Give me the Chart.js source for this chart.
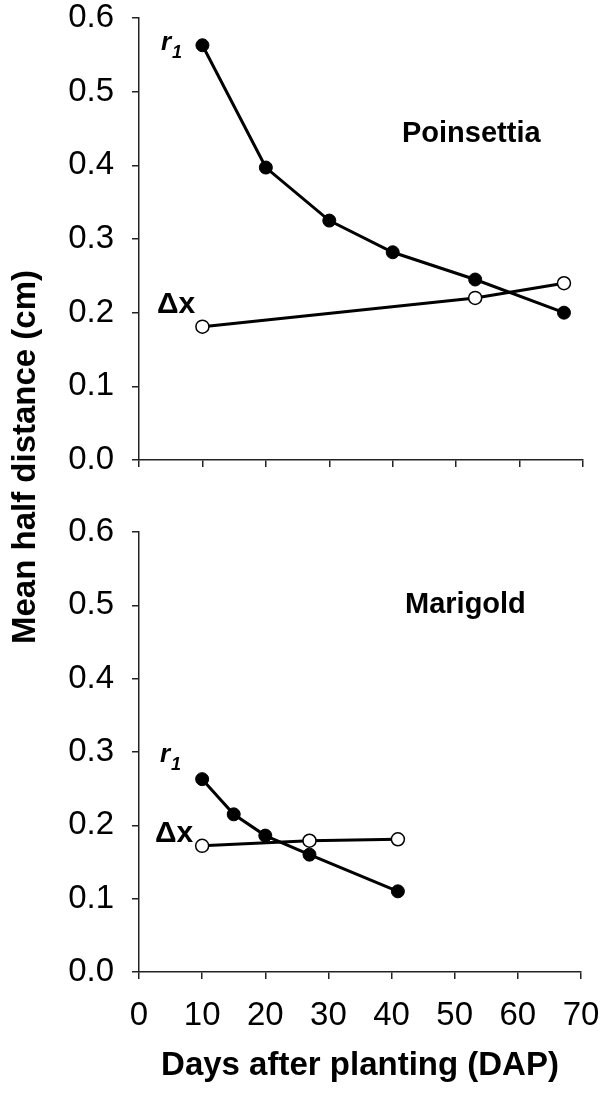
<!DOCTYPE html>
<html>
<head>
<meta charset="UTF-8">
<title>Mean half distance</title>
<style>
  body { margin: 0; background: #fff; }
  .page { position: relative; width: 605px; height: 1097px; overflow: hidden; }
  #chartTop { position: absolute; left: 0; top: 0; }
  #chartBot { position: absolute; left: 0; top: 500px; }
  .ytitle {
    position: absolute; left: -175px; top: 437px; width: 400px; height: 40px;
    line-height: 40px; text-align: center; transform: rotate(-90deg);
    font: bold 33px "Liberation Sans", Arial, sans-serif; color: #000;
  }
</style>
</head>
<body>
<div class="page">
  <canvas id="chartTop" width="605" height="500"></canvas>
  <canvas id="chartBot" width="605" height="597"></canvas>
  <div class="ytitle">Mean half distance (cm)</div>
</div>
<script src="https://cdn.jsdelivr.net/npm/chart.js"></script>
<script>
// ---- data: Poinsettia (top) ----
const poinDaysR1 = [10, 20, 30, 40, 53, 67];
const poinR1     = [0.563, 0.397, 0.325, 0.282, 0.245, 0.200];
const poinDaysDx = [10, 53, 67];
const poinDx     = [0.181, 0.220, 0.240];

// ---- data: Marigold (bottom) ----
const mariDaysR1 = [10, 15, 20, 27, 41];
const mariR1     = [0.263, 0.215, 0.186, 0.160, 0.110];
const mariDaysDx = [10, 27, 41];
const mariDx     = [0.172, 0.179, 0.181];

// axis ranges / ticks
const xMin = 0, xMax = 70, xStep = 10;
const yMin = 0, yMax = 0.6, yStep = 0.1;

const FONT = '"Liberation Sans", Arial, sans-serif';
const AXIS = '#222';

function pts(xs, ys) {
  return xs.map((x, i) => ({ x: x, y: ys[i] }));
}

function filledSet(xs, ys) {
  return {
    data: pts(xs, ys), showLine: true, borderColor: '#000', borderWidth: 3,
    pointRadius: 6.5, pointBackgroundColor: '#000', pointBorderColor: '#000',
    pointBorderWidth: 1, clip: false
  };
}
function openSet(xs, ys) {
  return {
    data: pts(xs, ys), showLine: true, borderColor: '#000', borderWidth: 3,
    pointRadius: 6.5, pointBackgroundColor: '#fff', pointBorderColor: '#000',
    pointBorderWidth: 1.5, clip: false
  };
}

// draws the text labels inside the panel
const labelPlugin = {
  id: 'panelLabels',
  afterDraw(chart, args, opts) {
    const ctx = chart.ctx;
    ctx.save();
    ctx.fillStyle = '#000';
    ctx.textBaseline = 'alphabetic';
    ctx.textAlign = 'left';
    (opts.items || []).forEach(it => {
      ctx.font = it.font;
      ctx.fillText(it.text, it.x, it.y);
    });
    ctx.restore();
  }
};

function makeChart(id, datasets, o) {
  return new Chart(document.getElementById(id), {
    type: 'scatter',
    data: { datasets: datasets },
    plugins: [labelPlugin],
    options: {
      responsive: false,
      animation: false,
      devicePixelRatio: 1,
      layout: { padding: { top: o.padTop, right: o.padRight, left: 0, bottom: 0 } },
      plugins: {
        legend: { display: false },
        tooltip: { enabled: false },
        panelLabels: { items: o.labels }
      },
      scales: {
        x: {
          type: 'linear', min: xMin, max: xMax,
          border: { color: AXIS, width: 1.5 },
          grid: { drawOnChartArea: false, drawTicks: true, tickLength: 7, color: AXIS, lineWidth: 1.5 },
          ticks: { display: o.showX, stepSize: xStep, color: '#000', padding: 17,
                   font: { family: FONT, size: 33 } },
          title: { display: o.showX, text: 'Days after planting (DAP)', color: '#000',
                   padding: { top: 0, bottom: 11 }, font: { family: FONT, size: 33, weight: 'bold' } },
          afterFit: s => { s.height = o.xHeight; s.paddingLeft = 0; s.paddingRight = 0; }
        },
        y: {
          type: 'linear', min: yMin, max: yMax,
          border: { color: AXIS, width: 1.5 },
          grid: { drawOnChartArea: false, drawTicks: true, tickLength: 7, color: AXIS, lineWidth: 1.5 },
          ticks: { stepSize: yStep, color: '#000', padding: 18,
                   font: { family: FONT, size: 33 },
                   callback: v => v.toFixed(1) },
          afterFit: s => { s.width = 139; s.paddingTop = 0; s.paddingBottom = 0; }
        }
      }
    }
  });
}

const BI = 'italic bold 26px ' + FONT;
const BI_SUB = 'italic bold 18px ' + FONT;

makeChart('chartTop', [filledSet(poinDaysR1, poinR1), openSet(poinDaysDx, poinDx)], {
  padTop: 18, padRight: 22, xHeight: 40, showX: false,
  labels: [
    { text: 'r', x: 161, y: 50, font: BI },
    { text: '1', x: 172, y: 58, font: BI_SUB },
    { text: 'Δx', x: 157, y: 313, font: 'bold 30px ' + FONT },
    { text: 'Poinsettia', x: 402, y: 142, font: 'bold 29px ' + FONT }
  ]
});

makeChart('chartBot', [filledSet(mariDaysR1, mariR1), openSet(mariDaysDx, mariDx)], {
  padTop: 32, padRight: 24, xHeight: 125, showX: true,
  labels: [
    { text: 'r', x: 160, y: 262, font: BI },
    { text: '1', x: 171, y: 270, font: BI_SUB },
    { text: 'Δx', x: 155, y: 342, font: 'bold 30px ' + FONT },
    { text: 'Marigold', x: 405, y: 113, font: 'bold 29px ' + FONT }
  ]
});
</script>
</body>
</html>
